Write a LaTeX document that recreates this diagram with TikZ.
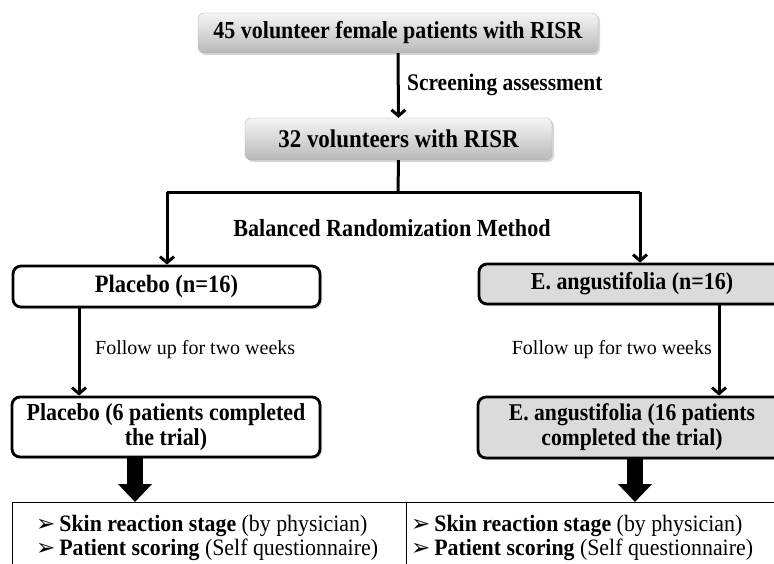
\documentclass[tikz,border=0pt]{standalone}
\usepackage{fontspec}
\setmainfont{Liberation Serif}
\newfontfamily\symfont{DejaVu Sans}
\newfontfamily\condfont[FakeStretch=0.93]{Liberation Serif}
\newfontfamily\titlefont[FakeStretch=0.9]{Liberation Serif}
\newcommand{\tf}[1]{\titlefont\fontsize{#1}{27}\selectfont\bfseries}
\usetikzlibrary{arrows.meta,shadows,calc}
\tikzset{
  graybox/.style={rounded corners=6pt, top color=gray!8, bottom color=gray!55, draw=gray!60, line width=0.4pt,
    drop shadow={shadow xshift=2pt, shadow yshift=-2pt, fill=gray!60, opacity=0.5},
    inner sep=0pt, align=center},
  whitebox/.style={rounded corners=8pt, fill=white, draw=black, line width=2.8pt,
    drop shadow={shadow xshift=2pt, shadow yshift=-2pt, fill=gray!70, opacity=0.5},
    inner sep=0pt, align=center},
  greybox/.style={whitebox, fill=gray!28},
  conn/.style={line width=3pt, -{Straight Barb[length=6pt,width=14pt]}},
  plain/.style={line width=3pt},
  lbl/.style={font=\fontsize{20}{24}\selectfont, inner sep=0pt},
  blbl/.style={inner sep=0pt},
  blockarrow/.style={line width=16pt, -{Triangle[length=18pt,width=33pt]}, draw=black},
  listtxt/.style={font=\condfont\fontsize{23.5}{26}\selectfont, inner sep=0pt, anchor=west, align=left}
}
\newcommand{\bul}{{\symfont\fontsize{23}{20}\selectfont ➢}\,}
\begin{document}
\begin{tikzpicture}[x=1pt,y=-1pt]
\useasboundingbox (0,0) rectangle (774,563);
\clip (0,0) rectangle (774,563);
% boxes
\node[graybox, minimum width=400pt, minimum height=40pt, font=\tf{24.4}] (top) at (398,33) {45 volunteer female patients with RISR};
\node[graybox, minimum width=307pt, minimum height=42pt, font=\tf{25.5}] (vol) at (398.5,139) {32 volunteers with RISR};
\node[whitebox, minimum width=307pt, minimum height=41pt, font=\tf{25}] (pl) at (166.5,286.5) {Placebo (n=16)};
\node[greybox, minimum width=306pt, minimum height=40pt, font=\tf{24.4}] (ea) at (632,284) {E. angustifolia (n=16)};
\node[whitebox, minimum width=308pt, minimum height=60pt, font=\tf{24.4}] (pl2) at (166,427) {Placebo (6 patients completed\\[-2pt]the trial)};
\node[greybox, minimum width=308pt, minimum height=61pt, font=\tf{24}] (ea2) at (632,427.5) {E. angustifolia (16 patients\\[-2pt]completed the trial)};
% connectors
\draw[conn] (top.south) -- (vol.north);
\node[blbl, anchor=west, font=\tf{23.8}] (scr) at (407,85) {Screening assessment};
\coordinate (split) at (398,192);
\coordinate (lsplit) at (167,192);
\coordinate (rsplit) at (640,192);
\draw[plain] (vol.south) -- (split);
\draw[plain] (lsplit) -- (rsplit);
\draw[conn] (lsplit) -- (lsplit |- pl.north);
\draw[conn] (rsplit) -- (rsplit |- ea.north);
\node[blbl, font=\tf{24.6}] (brm) at (392,228) {Balanced Randomization Method};
\coordinate (pla) at (79,0);
\draw[conn] (pla |- pl.south) -- (pla |- pl2.north);
\node[lbl, anchor=west] (fu1) at (95,350) {Follow up for two weeks};
\coordinate (eaa) at (719,0);
\draw[conn] (eaa |- ea.south) -- (eaa |- ea2.north);
\node[lbl, anchor=east] (fu2) at (712,350) {Follow up for two weeks};
% bottom table
\node[draw=black, line width=0.8pt, minimum width=394pt, minimum height=70pt, anchor=north west, inner sep=0pt] (tl) at (12,502) {};
\node[draw=black, line width=0.8pt, minimum width=394pt, minimum height=70pt, anchor=north west, inner sep=0pt] (tr) at (406,502) {};
\coordinate (ba1) at (135,0);
\coordinate (ba2) at (635,0);
\draw[blockarrow] (ba1 |- pl2.south) -- (ba1 |- tl.north);
\draw[blockarrow] (ba2 |- ea2.south) -- (ba2 |- tr.north);
\node[listtxt] (l1) at (36,526) {\bul\textbf{Skin reaction stage} (by physician)};
\node[listtxt] (l2) at (36,550) {\bul\textbf{Patient scoring} (Self questionnaire)};
\node[listtxt] (r1) at (411,526) {\bul\textbf{Skin reaction stage} (by physician)};
\node[listtxt] (r2) at (411,550) {\bul\textbf{Patient scoring} (Self questionnaire)};
\end{tikzpicture}
\end{document}
